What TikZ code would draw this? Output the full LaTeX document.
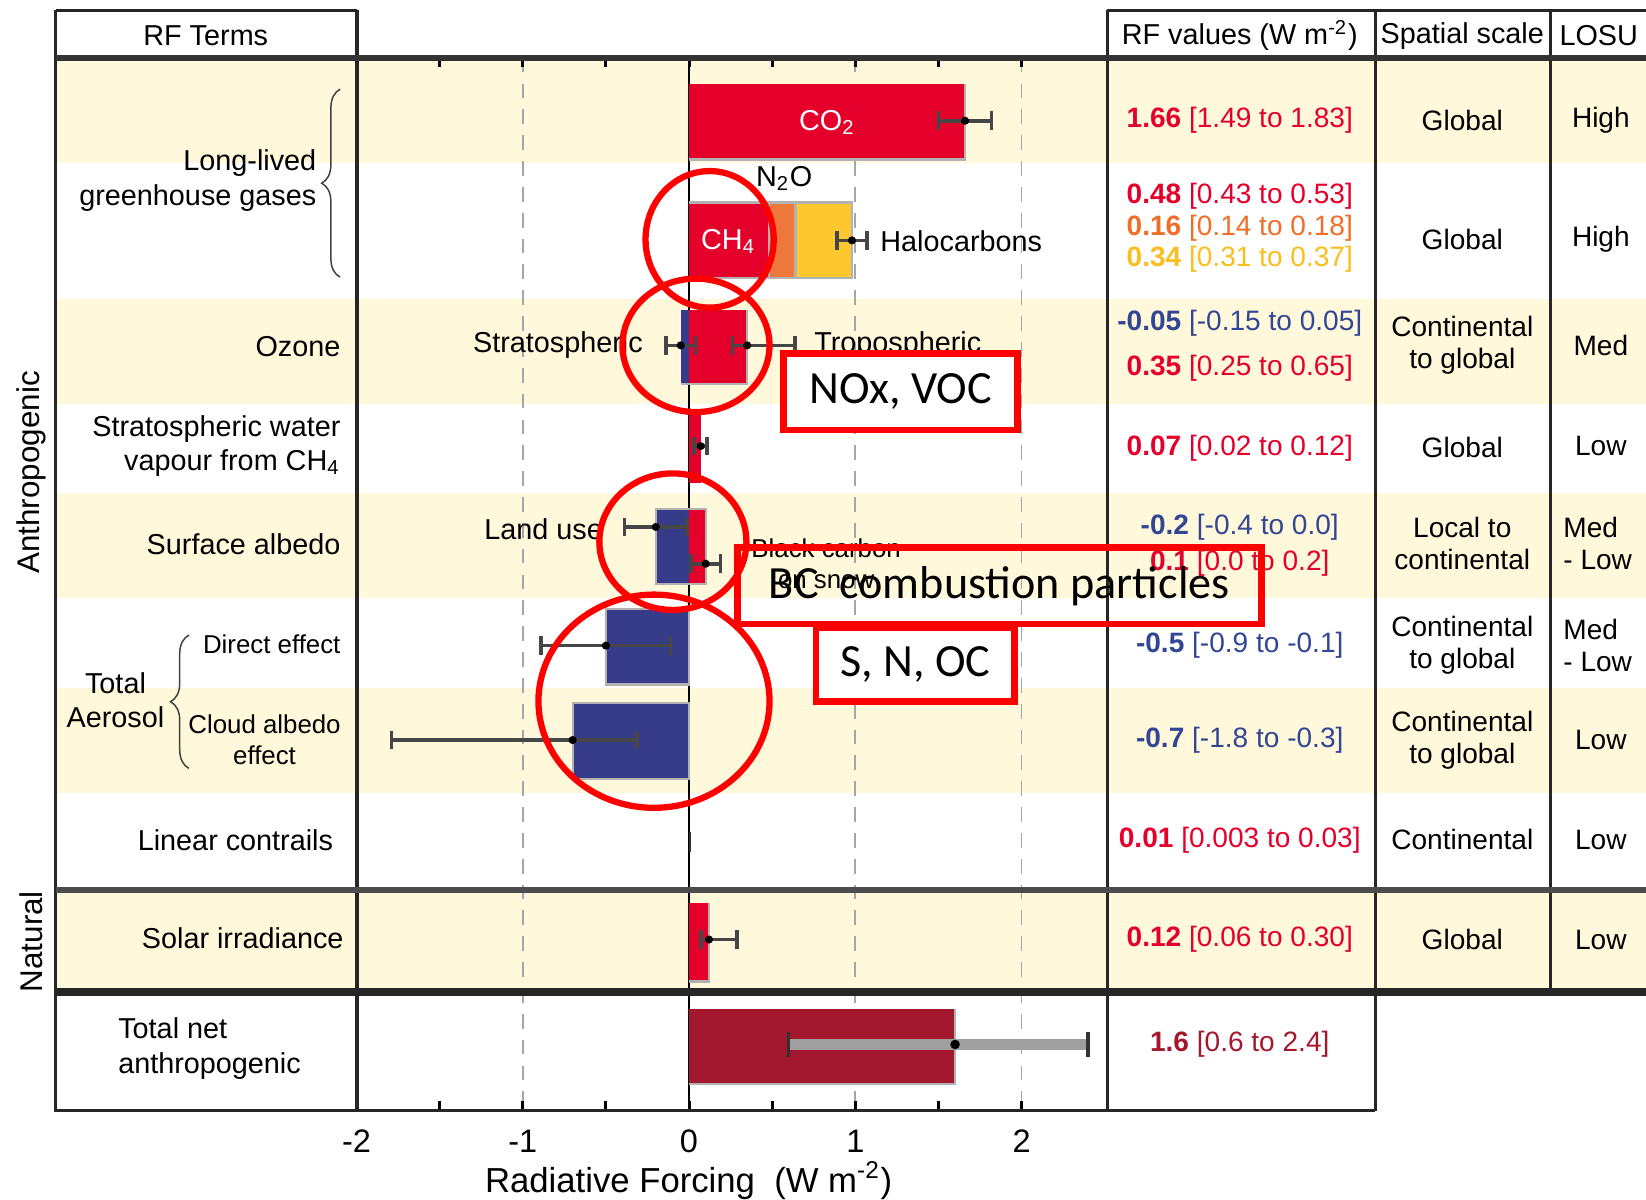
\documentclass[tikz,border=0pt]{standalone}
\usepackage{fontspec}
\setmainfont{Liberation Sans}
\newfontfamily\notefont{Carlito}
\usetikzlibrary{positioning}
\usetikzlibrary{calc}
\usetikzlibrary{arrows.meta,shapes.geometric,decorations.pathreplacing}

\definecolor{band}{RGB}{255,248,218}
\definecolor{barred}{RGB}{228,0,43}
\definecolor{barblue}{RGB}{54,60,138}
\definecolor{barorange}{RGB}{238,120,60}
\definecolor{baryellow}{RGB}{252,200,45}
\definecolor{bardark}{RGB}{163,24,46}
\definecolor{valblue}{RGB}{50,70,150}
\definecolor{valorange}{RGB}{240,110,40}
\definecolor{valyellow}{RGB}{250,190,30}
\definecolor{notered}{RGB}{255,0,0}

\tikzset{
  term/.style={font=\fontsize{7.8}{9.4}\selectfont, inner sep=0pt},
  small/.style={font=\fontsize{7}{8.4}\selectfont, inner sep=0pt},
  cell/.style={font=\fontsize{7.6}{8.6}\selectfont, inner sep=0pt, align=center},
  side/.style={font=\fontsize{8.5}{10}\selectfont, inner sep=0pt, rotate=90},
  frame/.style={draw=black!85, line width=0.9pt},
  grid/.style={draw=gray!70, dash pattern=on 4pt off 3pt, line width=0.5pt},
  barline/.style={draw=gray!60, line width=0.6pt},
  errbar/.style={draw=gray!55!black, line width=1pt, {Bar[width=5pt]}-{Bar[width=5pt]}},
  ring/.style={ellipse, draw=notered, line width=1.7pt, inner sep=0pt},
  notebox/.style={draw=notered, line width=1.8pt, font=\notefont\fontsize{12.5}{14}\selectfont, inner sep=0pt}
}

\begin{document}
\begin{tikzpicture}[x=0.01cm,y=-0.01cm]
\useasboundingbox (0,0) rectangle (1568,1143);

\foreach \a/\b in {55/155,285/385,470/570,655/755,848/945}
  \fill[band] (53,\a) rectangle (1568,\b);

\begin{scope}[xshift=6.56cm,x=1.583cm]
\foreach \v in {-1,1,2}
  \draw[grid] (\v,55) -- (\v,1058);
\draw[line width=0.7pt] (0,55) -- (0,1058);
\foreach \v in {-1.5,-1,...,2}{
  \draw[line width=0.8pt] (\v,55) -- (\v,64);
  \draw[line width=0.8pt] (\v,1058) -- (\v,1049);
}
\foreach \v in {-2,-1,0,1,2}
  \node[font=\fontsize{8.8}{10}\selectfont] (tick\v) at (\v,1087) {\v};

% bars
\fill[barred] (0,80) rectangle (1.66,152);
\draw[barline] (1.66,80) -- (1.66,152) -- (0,152);
\fill[barred] (0,193) rectangle (0.48,265);
\fill[barorange] (0.48,193) rectangle (0.64,265);
\fill[baryellow] (0.64,193) rectangle (0.98,265);
\draw[barline] (0,193) -- (0.98,193) -- (0.98,265) -- (0,265);
\draw[barline] (0.48,193) -- (0.48,265) (0.64,193) -- (0.64,265);
\fill[barblue] (-0.05,295) rectangle (0,366);
\fill[barred] (0,295) rectangle (0.35,366);
\draw[barline] (0.35,295) -- (0.35,366) -- (-0.05,366);
\fill[barred] (0,390) rectangle (0.07,460);
\fill[barblue] (-0.2,485) rectangle (0,556);
\fill[barred] (0,485) rectangle (0.1,556);
\draw[barline] (-0.2,485) -- (0.1,485) -- (0.1,556) -- (-0.2,556) -- cycle;
\fill[barblue] (-0.5,580) rectangle (0,652);
\draw[barline] (-0.5,580) rectangle (0,652);
\fill[barblue] (-0.7,670) rectangle (0,742);
\draw[barline] (-0.7,670) rectangle (0,742);
\fill[black!80] (0,793) rectangle (0.012,812);
\fill[barred] (0,860) rectangle (0.12,935);
\draw[barline] (0.12,860) -- (0.12,935) -- (0,935);
\fill[bardark] (0,961) rectangle (1.6,1033);
\draw[barline] (1.6,961) -- (1.6,1033) -- (0,1033);

% uncertainty ranges
\draw[errbar] (1.49,115) -- (1.83,115);  \fill (1.66,115) circle (1.1pt);
\draw[errbar] (0.88,229) -- (1.08,229);  \fill (0.98,229) circle (1.1pt);
\draw[errbar] (-0.15,329) -- (0.05,329); \fill (-0.05,329) circle (1.1pt);
\draw[errbar] (0.25,329) -- (0.65,329);  \fill (0.35,329) circle (1.1pt);
\draw[errbar] (0.02,425) -- (0.12,425);  \fill (0.07,425) circle (1.1pt);
\draw[errbar] (-0.4,502) -- (0,502);     \fill (-0.2,502) circle (1.1pt);
\draw[errbar] (0,537) -- (0.2,537);      \fill (0.1,537) circle (1.1pt);
\draw[errbar] (-0.9,615) -- (-0.1,615);  \fill (-0.5,615) circle (1.1pt);
\draw[errbar] (-1.8,705) -- (-0.3,705);  \fill (-0.7,705) circle (1.1pt);
\draw[errbar] (0.06,895) -- (0.30,895);  \fill (0.12,895) circle (1.1pt);
\draw[draw=gray!75, line width=3pt] (0.6,995) -- (2.4,995);
\draw[gray!40!black, line width=0.9pt] (0.6,983) -- (0.6,1007) (2.4,983) -- (2.4,1007);
\fill (1.6,995) circle (1.3pt);
\end{scope}

% frame
\draw[frame] (53,10) -- (340,10) (1055,10) -- (1568,10);
\draw[frame] (53,10) -- (53,1058) -- (1310,1058);
\draw[frame] (340,10) -- (340,1058);
\draw[frame] (1055,10) -- (1055,1058);
\draw[frame] (1310,10) -- (1310,1058);
\draw[frame] (1477,10) -- (1477,945);
\draw[black!80, line width=1.6pt] (53,55) -- (1568,55);
\draw[gray!60!black, line width=1.6pt] (53,848) -- (1568,848);
\draw[black!85, line width=2pt] (53,945) -- (1568,945);

% headers
\node[term] (hTerms) at (196,34) {RF Terms};
\node[term] (hValues) at (1181,34) {RF values (W m\textsuperscript{-2})};
\node[term] (hScale) at (1393,34) {Spatial scale};
\node[term] (hLosu) at (1523,34) {LOSU};

% left column
\node[side] (anthro) at (30,450) {Anthropogenic};
\node[side] (natural) at (30,897) {Natural};
\node[term, anchor=east, align=right] (llghg) at (302,172) {Long-lived\\greenhouse gases};
\draw[decorate, decoration={brace, amplitude=5pt}, gray!50!black] (324,264) -- (324,85);
\node[term, anchor=east] (ozone) at (325,330) {Ozone};
\node[term, anchor=east, align=right] (stratH2O) at (325,425) {Stratospheric water\\vapour from CH\textsubscript{4}};
\node[term, anchor=east] (albedo) at (325,518) {Surface albedo};
\node[term, align=center] (aerosol) at (110,667) {Total\\Aerosol};
\draw[decorate, decoration={brace, amplitude=5pt}, gray!50!black] (180,732) -- (180,605);
\node[small, anchor=east] (direct) at (325,614) {Direct effect};
\node[small, align=center] (cloud) at (252,705) {Cloud albedo\\effect};
\node[term, anchor=east] (contrails) at (318,800) {Linear contrails};
\node[term, anchor=east] (solar) at (328,894) {Solar irradiance};
\node[term, anchor=west, align=left] (totnet) at (112,999) {Total net\\anthropogenic};

% bar labels
\node[term, text=white] (co2) at (788,117) {CO\textsubscript{2}};
\node[term, text=white] (ch4) at (694,230) {CH\textsubscript{4}};
\node[term] (n2o) at (747,170) {N\textsubscript{2}O};
\node[term, anchor=west] (halo) at (838,230) {Halocarbons};
\node[term, anchor=east] (strat) at (613,329) {Stratospheric};
\node[term, anchor=west] (trop) at (775,329) {Tropospheric};
\node[term, anchor=east] (landuse) at (575,504) {Land use};
\node[small, align=center] (bcsnow) at (787,537) {Black carbon\\on snow};

% values
\node[cell, text=barred] (v1) at (1181,115) {\textbf{1.66} [1.49 to 1.83]};
\node[cell, text=barred] (v2a) at (1181,187) {\textbf{0.48} [0.43 to 0.53]};
\node[cell, text=valorange] (v2b) at (1181,217) {\textbf{0.16} [0.14 to 0.18]};
\node[cell, text=valyellow] (v2c) at (1181,247) {\textbf{0.34} [0.31 to 0.37]};
\node[cell, text=valblue] (v3a) at (1181,308) {\textbf{-0.05} [-0.15 to 0.05]};
\node[cell, text=barred] (v3b) at (1181,351) {\textbf{0.35} [0.25 to 0.65]};
\node[cell, text=barred] (v4) at (1181,427) {\textbf{0.07} [0.02 to 0.12]};
\node[cell, text=valblue] (v5a) at (1181,502) {\textbf{-0.2} [-0.4 to 0.0]};
\node[cell, text=barred] (v5b) at (1181,537) {\textbf{0.1} [0.0 to 0.2]};
\node[cell, text=valblue] (v6) at (1181,615) {\textbf{-0.5} [-0.9 to -0.1]};
\node[cell, text=valblue] (v7) at (1181,705) {\textbf{-0.7} [-1.8 to -0.3]};
\node[cell, text=barred] (v8) at (1181,800) {\textbf{0.01} [0.003 to 0.03]};
\node[cell, text=barred] (v9) at (1181,895) {\textbf{0.12} [0.06 to 0.30]};
\node[cell, text=bardark] (v10) at (1181,995) {\textbf{1.6} [0.6 to 2.4]};

% spatial scale
\node[cell] (s1) at (1393,115) {Global};
\node[cell] (s2) at (1393,228) {Global};
\node[cell] (s3) at (1393,329) {Continental\\to global};
\node[cell] (s4) at (1393,426) {Global};
\node[cell] (s5) at (1393,518) {Local to\\continental};
\node[cell] (s6) at (1393,615) {Continental\\to global};
\node[cell] (s7) at (1393,705) {Continental\\to global};
\node[cell] (s8) at (1393,800) {Continental};
\node[cell] (s9) at (1393,895) {Global};

% LOSU
\node[cell] (l1) at (1525,115) {High};
\node[cell] (l2) at (1525,228) {High};
\node[cell] (l3) at (1525,329) {Med};
\node[cell] (l4) at (1525,425) {Low};
\node[cell, align=left] (l5) at (1522,518) {Med\\- Low};
\node[cell, align=left] (l6) at (1522,615) {Med\\- Low};
\node[cell] (l7) at (1525,705) {Low};
\node[cell] (l8) at (1525,800) {Low};
\node[cell] (l9) at (1525,895) {Low};

% axis title
\node[font=\fontsize{9.4}{11}\selectfont] (xlabel) at (656,1125) {Radiative Forcing\ \ (W m\textsuperscript{-2})};

% annotations
\node[ring, minimum width=1.22cm, minimum height=1.3cm] (ringLL) at (676,228) {};
\node[ring, minimum width=1.4cm, minimum height=1.27cm] (ringOz) at (663,329) {};
\node[ring, minimum width=1.4cm, minimum height=1.3cm] (ringAlb) at (641,516) {};
\node[ring, minimum width=2.2cm, minimum height=2.03cm] (ringAer) at (623,668) {};
\node[notebox, fill=white, minimum width=2.23cm, minimum height=0.73cm] (noxBox) at (858,373) {NOx, VOC};
\node[notebox, minimum width=4.99cm, minimum height=0.73cm] (bcBox) at (952,558) {BC\ \ combustion particles};
\node[notebox, fill=white, minimum width=1.89cm, minimum height=0.7cm] (snBox) at (872,633) {S, N, OC};
\end{tikzpicture}
\end{document}
